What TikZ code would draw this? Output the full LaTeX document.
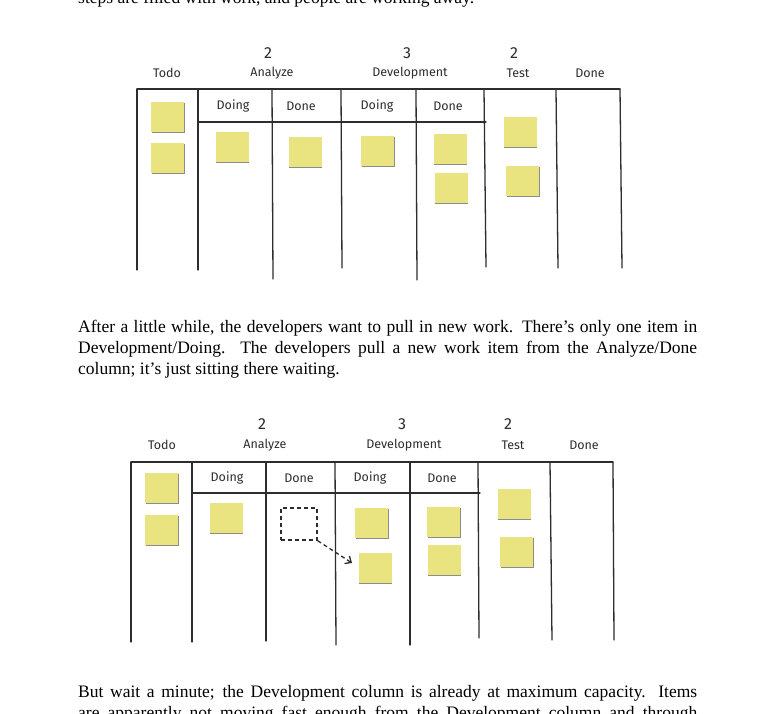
\documentclass[tikz,border=0pt]{standalone}
\usepackage{fontspec}
\setmainfont{Liberation Serif}
\newfontfamily\hand{Fira Sans}
\usetikzlibrary{arrows.meta,shadows}
\definecolor{postit}{RGB}{234,228,128}
\definecolor{ink}{RGB}{45,45,45}
\begin{document}
\begin{tikzpicture}[x=1pt,y=-1pt,
  sticky/.style={fill=postit, draw=none, minimum width=33pt, minimum height=30pt, inner sep=0pt,
    drop shadow={shadow xshift=0.6pt, shadow yshift=-1pt, fill=black, opacity=0.45}},
  ghost/.style={draw=ink, dash pattern=on 4pt off 3pt, line width=1.5pt, minimum width=36pt, minimum height=32pt, inner sep=0pt},
  board/.style={draw=ink, line width=1.3pt, line cap=round},
  lbl/.style={font=\hand\fontsize{12.5}{14}\selectfont, text=ink, inner sep=0pt},
  num/.style={font=\hand\fontsize{16}{18}\selectfont, text=ink, inner sep=0pt},
  body/.style={font=\fontsize{17.5}{21}\selectfont, inner sep=0pt, anchor=base west}]
\useasboundingbox (0,0) rectangle (761,713);
\clip (0,0) rectangle (761,713);
\fill[white] (0,0) rectangle (761,713);

% text
\node[body] (t0) at (78,3) {steps are filled with work, and people are working away.};
\node[body] (p1) at (78,332) {\makebox[619pt][s]{After a little while, the developers want to pull in new work. There’s only one item in}};
\node[body] (p2) at (78,353) {\makebox[619pt][s]{Development/Doing. The developers pull a new work item from the Analyze/Done}};
\node[body] (p3) at (78,374) {column; it’s just sitting there waiting.};
\node[body] (q1) at (78,697) {\makebox[619pt][s]{But wait a minute; the Development column is already at maximum capacity. Items}};
\node[body] (q2) at (78,718) {\makebox[619pt][s]{are apparently not moving fast enough from the Development column and through}};

% ---------- board 1 ----------
\draw[board] (137,89) -- (620,89);
\draw[board] (198,122) -- (486,122);
\draw[board] (137,89) -- (137,270);
\draw[board] (198,89) -- (198,270);
\draw[board] (272,89) -- (273,279);
\draw[board] (341,89) -- (342,268);
\draw[board] (416,89) -- (417,280);
\draw[board] (484,89) -- (486,267);
\draw[board] (556,89) -- (558,268);
\draw[board] (620,89) -- (622,268);

\node[num] (n1a) at (268,53) {2};
\node[num] (n1b) at (407,53) {3};
\node[num] (n1c) at (514,53) {2};
\node[lbl] (h1a) at (167,73) {Todo};
\node[lbl] (h1b) at (272,73) {Analyze};
\node[lbl] (h1c) at (410,73) {Development};
\node[lbl] (h1d) at (518,73) {Test};
\node[lbl] (h1e) at (590,73) {Done};
\node[lbl] (s1a) at (233,106) {Doing};
\node[lbl] (s1b) at (301,106) {Done};
\node[lbl] (s1c) at (377,106) {Doing};
\node[lbl] (s1d) at (448,106) {Done};

\node[sticky] (a1) at (167.5,117) {};
\node[sticky] (a2) at (167.5,158) {};
\node[sticky] (a3) at (232,146.5) {};
\node[sticky] (a4) at (305,152) {};
\node[sticky] (a5) at (377.5,151) {};
\node[sticky] (a6) at (450,149) {};
\node[sticky] (a7) at (451,188) {};
\node[sticky] (a8) at (520,132) {};
\node[sticky] (a9) at (522.5,180.5) {};

% ---------- board 2 ----------
\draw[board] (131,462) -- (613,462);
\draw[board] (192,493) -- (480,493);
\draw[board] (131,462) -- (131,642);
\draw[board] (192,462) -- (192,642);
\draw[board] (266,462) -- (266,641);
\draw[board] (335,462) -- (336,645);
\draw[board] (410,462) -- (410,645);
\draw[board] (478,462) -- (479,638);
\draw[board] (550,462) -- (552,640);
\draw[board] (613,462) -- (614,640);

\node[num] (n2a) at (262,424) {2};
\node[num] (n2b) at (402,424) {3};
\node[num] (n2c) at (508,424) {2};
\node[lbl] (h2a) at (162,445) {Todo};
\node[lbl] (h2b) at (265,445) {Analyze};
\node[lbl] (h2c) at (404,445) {Development};
\node[lbl] (h2d) at (513,445) {Test};
\node[lbl] (h2e) at (584,445) {Done};
\node[lbl] (s2a) at (227,478) {Doing};
\node[lbl] (s2b) at (299,478) {Done};
\node[lbl] (s2c) at (370,478) {Doing};
\node[lbl] (s2d) at (442,478) {Done};

\node[sticky] (b1) at (161.5,488) {};
\node[sticky] (b2) at (161.5,530) {};
\node[sticky] (b3) at (226,518) {};
\node[ghost] (g) at (299,524) {};
\node[sticky] (b4) at (371.5,523) {};
\node[sticky] (b5) at (375,568) {};
\node[sticky] (b6) at (443.5,521.5) {};
\node[sticky] (b7) at (444,559.5) {};
\node[sticky] (b8) at (514,504) {};
\node[sticky] (b9) at (516.5,552) {};

\coordinate (tip) at (352,563);
\draw[draw=ink, dash pattern=on 4pt off 3pt, line width=1.3pt, -{Straight Barb[length=5pt,width=9pt]}] (g.south east) -- (tip);
\end{tikzpicture}
\end{document}
